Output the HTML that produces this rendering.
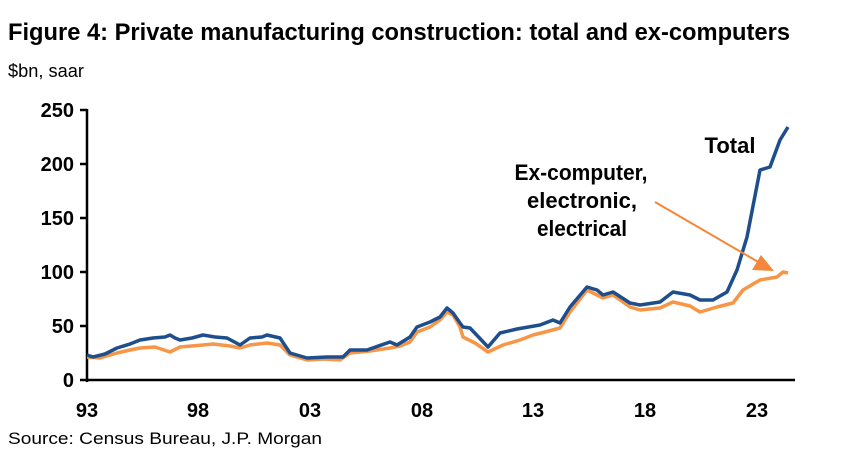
<!DOCTYPE html>
<html><head><meta charset="utf-8"><style>
body{margin:0;background:#fff;width:852px;height:460px;overflow:hidden;font-family:"Liberation Sans",Arial,sans-serif}
</style></head><body>
<svg width="852" height="460" xmlns="http://www.w3.org/2000/svg" font-family="Liberation Sans, Arial, sans-serif">
<text x="8" y="40" font-size="24" font-weight="bold" fill="#000" textLength="782" lengthAdjust="spacingAndGlyphs">Figure 4: Private manufacturing construction: total and ex-computers</text>
<text x="8" y="77" font-size="18" fill="#000" textLength="76" lengthAdjust="spacingAndGlyphs">$bn, saar</text>
<text x="8" y="444" font-size="17" fill="#000" textLength="314" lengthAdjust="spacingAndGlyphs">Source: Census Bureau, J.P. Morgan</text>
<g stroke="#000" stroke-width="2.5">
<line x1="87" y1="109" x2="87" y2="382"/>
<line x1="80" y1="380" x2="795" y2="380"/>
<line x1="80" y1="110" x2="87" y2="110"/>
<line x1="80" y1="164" x2="87" y2="164"/>
<line x1="80" y1="218" x2="87" y2="218"/>
<line x1="80" y1="272" x2="87" y2="272"/>
<line x1="80" y1="326" x2="87" y2="326"/>
</g>
<g stroke="#000" stroke-width="2.5" id="ticks"></g>
<g font-size="20" font-weight="bold" text-anchor="end">
<text x="74" y="117">250</text><text x="74" y="171">200</text><text x="74" y="225">150</text>
<text x="74" y="279">100</text><text x="74" y="333">50</text><text x="74" y="387">0</text>
</g>
<g font-size="20" font-weight="bold" text-anchor="middle">
<text x="87" y="417">93</text><text x="198" y="417">98</text><text x="310" y="417">03</text>
<text x="422" y="417">08</text><text x="533" y="417">13</text><text x="645" y="417">18</text><text x="757" y="417">23</text>
</g>
<polyline fill="none" stroke="#f79646" stroke-width="3.5" stroke-linejoin="round" points="87,357 100,358 117,353 130,350 140,348 155,347 170,352 180,347 203,345 213,344 230,346 240,348 250,345 267,343 280,345 290,355 307,360 325,359 340,360 350,353 370,351 390,348 400,346 410,342 417,332 430,327 440,320 447,312 453,315 460,327 463,337 475,343 488,352 503,345 520,340 533,335 545,332 560,328 570,312 587,290 595,294 603,298 613,295 630,307 640,310 660,308 673,302 690,306 700,312 717,307 733,303 743,290 760,280 777,277 783,272 788,273"/>
<polyline fill="none" stroke="#1f4e8c" stroke-width="3.5" stroke-linejoin="round" points="87,355 93,357 105,354 117,348 130,344 140,340 153,338 165,337 170,335 175,338 180,340 192,338 203,335 215,337 227,338 240,345 250,338 262,337 267,335 280,338 290,353 307,358 327,357 343,357 350,350 367,350 390,342 397,345 410,337 417,327 430,322 440,317 447,308 453,313 460,323 463,327 470,328 488,347 500,333 517,329 540,325 553,320 560,323 570,307 587,287 597,290 603,295 613,292 630,303 640,305 660,302 673,292 690,295 700,300 713,300 727,292 737,270 747,237 760,170 770,167 780,140 788,127"/>
<line x1="655" y1="202" x2="760" y2="263" stroke="#f4873a" stroke-width="2"/>
<polygon points="774,271 752,270 761,255" fill="#f4873a"/>
<text x="730" y="153" font-size="22" font-weight="bold" text-anchor="middle">Total</text>
<g font-size="22" font-weight="bold" text-anchor="middle">
<text x="581" y="180" textLength="133" lengthAdjust="spacingAndGlyphs">Ex-computer,</text>
<text x="582" y="208" textLength="110" lengthAdjust="spacingAndGlyphs">electronic,</text>
<text x="582" y="236" textLength="90" lengthAdjust="spacingAndGlyphs">electrical</text>
</g>
<script>
var g=document.getElementById('ticks'),s='';
for(var i=0;i<=31;i++){var x=87+i*22.33;var big=(i%5==0);s+='<line x1="'+x+'" y1="'+(big?372:375)+'" x2="'+x+'" y2="'+(big?388:385)+'"/>';}
g.innerHTML=s;
</script>
</svg>
</body></html>
